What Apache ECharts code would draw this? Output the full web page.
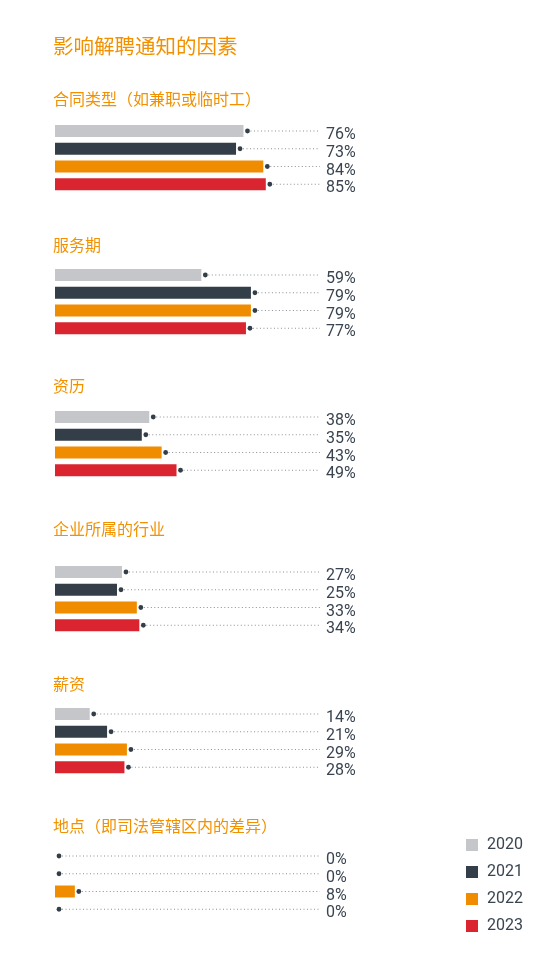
<!DOCTYPE html>
<html><head><meta charset="utf-8">
<script src="https://cdn.jsdelivr.net/npm/echarts@6/dist/echarts.min.js"></script>
<style>html,body{margin:0;padding:0;background:#fff}#c{width:560px;height:964px}</style>
</head><body><div id="c"></div>
<script>
// ---- data ----
const mainTitle = '影响解聘通知的因素';
const categories = ['合同类型（如兼职或临时工）','服务期','资历','企业所属的行业','薪资','地点（即司法管辖区内的差异）'];
const years = ['2020','2021','2022','2023'];
const v2020 = [76,59,38,27,14,0];
const v2021 = [73,79,35,25,21,0];
const v2022 = [84,79,43,33,29,8];
const v2023 = [85,77,49,34,28,0];

// ---- layout / style ----
const yearValues = [v2020, v2021, v2022, v2023];
const colors = ['#c4c6c9', '#333e48', '#f08c00', '#da2530'];
const orange = '#f29100';
const textDark = '#3a4450';
const font = 'Roboto, "Noto Sans CJK SC", sans-serif';
const firstBarCenter = [131, 275, 417, 572, 714, 856];
const titleCenter = [101, 246.5, 388, 531, 685.5, 828];
const rowStep = 17.75;
const gridLeft = 55, gridWidth = 248;

const chart = echarts.init(document.getElementById('c'), null, {renderer: 'canvas'});
const grids = [], xAxes = [], yAxes = [], series = [];
const titles = [{
  text: mainTitle, left: 53, top: 39, padding: 0,
  textStyle: {fontSize: 20.5, fontWeight: 'normal', color: orange, fontFamily: font}
}];

categories.forEach((cat, g) => {
  titles.push({
    text: cat, left: 53, top: titleCenter[g] - 8, padding: 0,
    textStyle: {fontSize: 16, fontWeight: 'normal', color: orange, fontFamily: font}
  });
  grids.push({left: gridLeft, width: gridWidth, top: firstBarCenter[g] - rowStep / 2, height: rowStep * 4});
  xAxes.push({type: 'value', gridIndex: g, min: 0, max: 100, show: false});
  yAxes.push({type: 'category', gridIndex: g, data: years, inverse: true, show: false});
  years.forEach((y, i) => {
    const d = years.map((_, j) => j === i ? yearValues[i][g] : '-');
    series.push({
      type: 'bar', name: y, xAxisIndex: g, yAxisIndex: g, stack: 'g' + g,
      barWidth: 12, data: d, itemStyle: {color: colors[i]}, silent: true, animation: false
    });
  });
  series.push({
    type: 'custom', name: 'deco' + g, xAxisIndex: g, yAxisIndex: g, animation: false, silent: true,
    data: years.map((_, i) => [yearValues[i][g], i]),
    renderItem: function (params, api) {
      const p = api.coord([api.value(0), api.value(1)]);
      const cs = params.coordSys;
      const dotX = p[0] + 4;
      const endX = cs.x + cs.width + 17;
      return {
        type: 'group',
        children: [
          {type: 'line', shape: {x1: dotX + 3, y1: p[1], x2: endX, y2: p[1]},
           style: {stroke: '#8a8f95', lineWidth: 1, lineDash: [1, 2.5]}},
          {type: 'circle', shape: {cx: dotX, cy: p[1], r: 2.4}, style: {fill: '#333e48'}},
          {type: 'text', x: endX + 6, y: p[1] + 4,
           style: {text: api.value(0) + '%', fill: textDark, font: '16px ' + font,
                   verticalAlign: 'middle', align: 'left'}}
        ]
      };
    }
  });
});

chart.setOption({
  animation: false,
  title: titles,
  grid: grids,
  xAxis: xAxes,
  yAxis: yAxes,
  legend: {
    data: years, orient: 'vertical', left: 461, top: 832,
    itemWidth: 12, itemHeight: 12, itemGap: 11, icon: 'rect',
    textStyle: {fontSize: 16, color: textDark, fontFamily: font, padding: [0, 0, 0, 4]}
  },
  series: series
});
</script></body></html>
